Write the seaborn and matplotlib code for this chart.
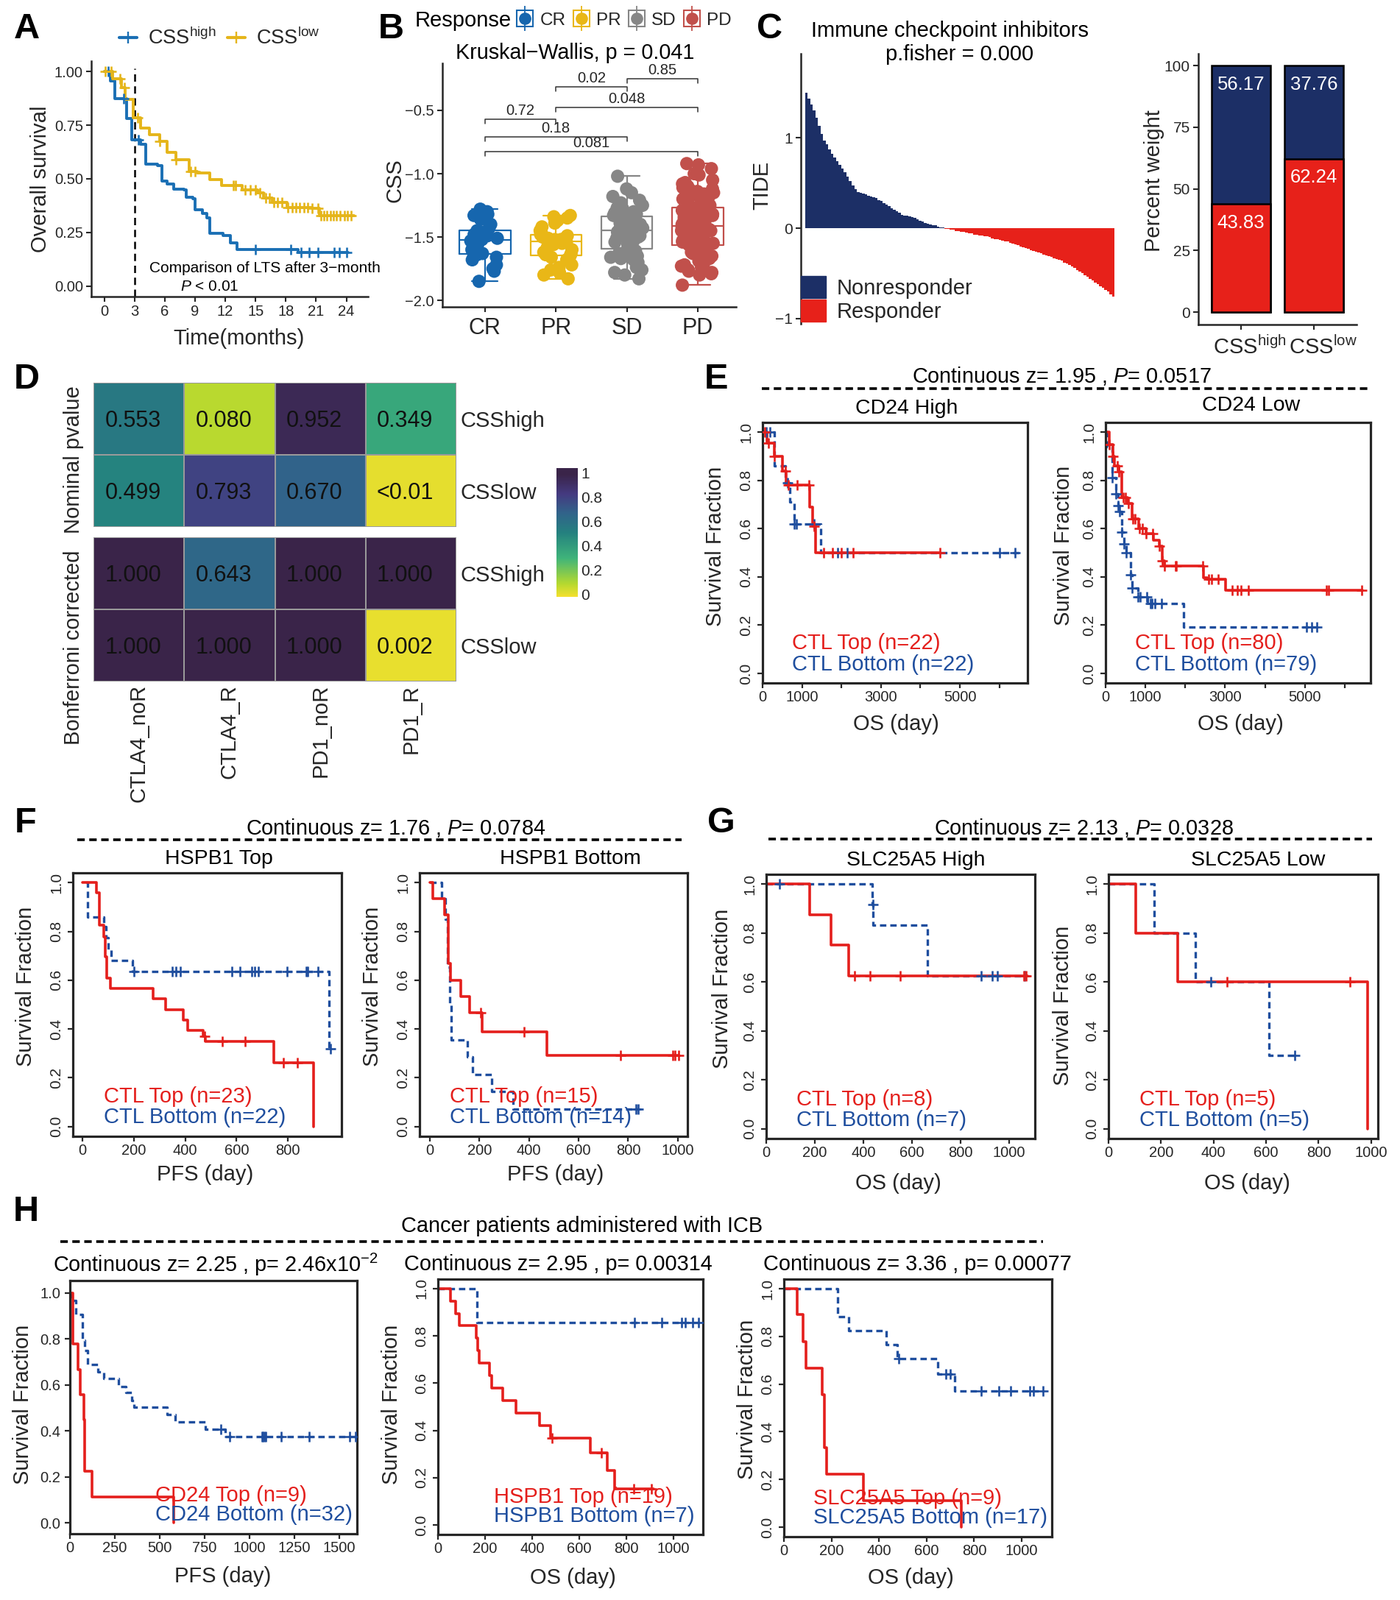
#!/usr/bin/env python3
# -*- coding: utf-8 -*-
"""Multi-panel survival / immunotherapy figure (panels A-H)."""

import numpy as np
import pandas as pd
import matplotlib
matplotlib.use("Agg")
import matplotlib.pyplot as plt
from matplotlib.colors import LinearSegmentedColormap
from matplotlib.legend_handler import HandlerTuple
from matplotlib.lines import Line2D
from matplotlib.patches import Patch
from matplotlib.transforms import ScaledTranslation
import seaborn as sns

W, H = 1902, 2174

# Panel A
a_blue_t = [0, 0.6, 1.07, 2.2, 2.7, 3.6, 4.1, 5.3, 5.7, 6.2, 6.9, 7.9, 8.15, 8.8, 9.0, 9.7, 10.2, 10.5, 11.8, 12.5, 13.2, 19.2, 24.2]
a_blue_s = [1.0, 0.955, 0.875, 0.78, 0.68, 0.66, 0.57, 0.56, 0.49, 0.475, 0.453, 0.45, 0.413, 0.408, 0.356, 0.34, 0.317, 0.248, 0.237, 0.203, 0.171, 0.157, 0.157]
a_blue_c = [0.4, 1.9, 3.4, 15.0, 18.5, 19.5, 20.3, 21.2, 22.8, 23.3, 24.0]
a_gold_t = [0, 0.84, 1.68, 2.1, 2.9, 3.6, 4.5, 5.5, 6.2, 7.1, 8.4, 9.2, 10.5, 11.6, 13.0, 13.7, 15.2, 15.8, 16.7, 18.1, 20.6, 21.3, 24.8]
a_gold_s = [1.0, 0.966, 0.926, 0.869, 0.784, 0.738, 0.705, 0.675, 0.624, 0.59, 0.533, 0.527, 0.495, 0.47, 0.47, 0.448, 0.436, 0.41, 0.39, 0.368, 0.362, 0.328, 0.328]
a_gold_c = [0.1, 0.7, 1.6, 2.0, 3.3, 5.5, 7.1, 8.6, 9.0, 12.8, 13.0, 14.0, 14.5, 15.0, 15.4, 16.0, 16.4, 16.8, 17.2, 17.6, 18.2, 18.6, 19.0, 19.4, 19.8, 20.2, 20.6, 21.2, 21.5, 21.8, 22.1, 22.4, 22.7, 23.0, 23.4, 23.8, 24.1, 24.5]

# Panel B
resp_cats = ["CR", "PR", "SD", "PD"]
css_cr = [-1.28, -1.30, -1.32, -1.33, -1.36, -1.40, -1.43, -1.45, -1.46, -1.48, -1.49, -1.50, -1.51, -1.52,
          -1.53, -1.54, -1.56, -1.58, -1.60, -1.62, -1.63, -1.64, -1.66, -1.68, -1.72, -1.75, -1.77, -1.85]
css_pr = [-1.33, -1.34, -1.35, -1.37, -1.39, -1.42, -1.45, -1.47, -1.48, -1.49, -1.50, -1.51, -1.51, -1.52, -1.52,
          -1.53, -1.53, -1.54, -1.55, -1.56, -1.58, -1.60, -1.62, -1.63, -1.64, -1.65, -1.66, -1.68, -1.72, -1.74,
          -1.76, -1.78, -1.80, -1.83]
css_sd = [-1.02, -1.12, -1.15, -1.18, -1.21, -1.23, -1.25, -1.27, -1.28, -1.29, -1.30, -1.31, -1.32, -1.33, -1.33,
          -1.34, -1.35, -1.36, -1.37, -1.38, -1.39, -1.40, -1.41, -1.41, -1.42, -1.42, -1.43, -1.43, -1.44, -1.44,
          -1.45, -1.45, -1.46, -1.47, -1.48, -1.49, -1.50, -1.51, -1.52, -1.53, -1.54, -1.55, -1.56, -1.57, -1.59,
          -1.60, -1.61, -1.62, -1.63, -1.65, -1.66, -1.67, -1.68, -1.70, -1.72, -1.74, -1.76, -1.78, -1.80, -1.83]
css_pd = [-0.92, -0.93, -0.96, -1.00, -1.01, -1.05, -1.07, -1.08, -1.10, -1.11, -1.12, -1.13, -1.14, -1.15, -1.16,
          -1.17, -1.18, -1.19, -1.20, -1.21, -1.22, -1.23, -1.24, -1.25, -1.26,
          -1.27, -1.28, -1.29, -1.30, -1.31, -1.32, -1.32, -1.33, -1.33, -1.34, -1.34, -1.35, -1.35, -1.36, -1.36,
          -1.37, -1.37, -1.38, -1.38, -1.39, -1.39, -1.40, -1.40, -1.41, -1.41,
          -1.42, -1.42, -1.43, -1.43, -1.44, -1.44, -1.45, -1.45, -1.46, -1.46, -1.47, -1.47, -1.48, -1.48, -1.49,
          -1.50, -1.51, -1.52, -1.53, -1.54, -1.55, -1.55, -1.56, -1.56, -1.56,
          -1.57, -1.58, -1.59, -1.60, -1.61, -1.62, -1.63, -1.64, -1.65, -1.66, -1.67, -1.68, -1.69, -1.70, -1.71,
          -1.72, -1.73, -1.74, -1.75, -1.76, -1.77, -1.78, -1.79, -1.80, -1.88]
# group a, group b, bracket height, p label
b_brackets = [(2, 3, -0.25, "0.85"), (1, 2, -0.314, "0.02"), (1, 3, -0.477, "0.048"),
              (0, 1, -0.568, "0.72"), (0, 2, -0.708, "0.18"), (0, 3, -0.826, "0.081")]

# Panel C
tide_nonresp = [1.50, 1.43, 1.37, 1.30, 1.22, 1.13, 1.04, 0.97, 0.93, 0.87, 0.82, 0.78, 0.74, 0.70, 0.66, 0.62, 0.57, 0.52,
                0.47, 0.43, 0.40, 0.39, 0.38, 0.37, 0.36, 0.35, 0.34, 0.33, 0.31, 0.30, 0.28, 0.26, 0.24, 0.22, 0.20, 0.19,
                0.17, 0.15, 0.14, 0.14, 0.13, 0.12, 0.11, 0.10, 0.08, 0.07, 0.06, 0.05, 0.04, 0.03, 0.03, 0.02, 0.01, 0.01]
tide_resp = [-0.01, -0.01, -0.02, -0.02, -0.03, -0.03, -0.04, -0.04, -0.05, -0.06, -0.06, -0.07, -0.07, -0.08, -0.08, -0.09,
             -0.09, -0.10, -0.11, -0.12, -0.12, -0.13, -0.14, -0.15, -0.15, -0.16, -0.17, -0.18, -0.19, -0.20, -0.21, -0.22,
             -0.23, -0.24, -0.25, -0.26, -0.27, -0.28, -0.29, -0.30, -0.31, -0.32, -0.33, -0.34, -0.35, -0.36, -0.38, -0.39,
             -0.41, -0.42, -0.44, -0.46, -0.48, -0.50, -0.52, -0.54, -0.56, -0.58, -0.60, -0.62, -0.64, -0.66, -0.68, -0.70,
             -0.73, -0.76]
css_groups = ["CSS$^{high}$", "CSS$^{low}$"]
pct_nonresp = [56.17, 37.76]
pct_resp = [43.83, 62.24]

# Panel D
d_cols = ["CTLA4_noR", "CTLA4_R", "PD1_noR", "PD1_R"]
d_rows = ["CSShigh", "CSSlow"]
d_nominal = [[0.553, 0.080, 0.952, 0.349], [0.499, 0.793, 0.670, 0.005]]
d_nominal_txt = [["0.553", "0.080", "0.952", "0.349"], ["0.499", "0.793", "0.670", "<0.01"]]
d_bonf = [[1.000, 0.643, 1.000, 1.000], [1.000, 1.000, 1.000, 0.002]]
d_bonf_txt = [["1.000", "0.643", "1.000", "1.000"], ["1.000", "1.000", "1.000", "0.002"]]

# Panel E
e1_red_t = [0, 110, 300, 510, 600, 1200, 1260, 1350, 4500]
e1_red_s = [1.0, 0.955, 0.9, 0.84, 0.78, 0.69, 0.61, 0.5, 0.5]
e1_red_c = [60, 150, 300, 570, 650, 870, 1170, 1300, 1550, 1770, 2000, 2300, 4500]
e1_blue_t = [0, 290, 300, 580, 690, 800, 1480, 6500]
e1_blue_s = [1.0, 0.93, 0.86, 0.79, 0.71, 0.62, 0.5, 0.5]
e1_blue_c = [100, 180, 640, 800, 850, 1300, 1900, 2140, 6000, 6400]
e2_red_t = [0, 90, 190, 220, 340, 410, 560, 670, 840, 1010, 1200, 1340, 1420, 1480, 2460, 2540, 3020, 6450]
e2_red_s = [1.0, 0.95, 0.9, 0.86, 0.835, 0.73, 0.705, 0.64, 0.6, 0.58, 0.553, 0.527, 0.465, 0.445, 0.395, 0.39, 0.344, 0.344]
e2_red_c = [90, 190, 300, 340, 450, 500, 580, 680, 730, 850, 920, 1020, 1180, 1340, 1420, 1480, 1760, 1770,
            2440, 2580, 2660, 2830, 3180, 3300, 3400, 3580, 5540, 5600, 6420]
e2_blue_t = [0, 30, 170, 250, 310, 360, 410, 460, 515, 630, 670, 820, 1060, 1960, 5320]
e2_blue_s = [1.0, 0.94, 0.81, 0.745, 0.695, 0.67, 0.585, 0.538, 0.5, 0.41, 0.353, 0.316, 0.29, 0.193, 0.193]
e2_blue_c = [170, 250, 310, 360, 410, 460, 515, 630, 670, 820, 870, 1030, 1130, 1170, 1230, 1400, 5050, 5180, 5300]

# Panel F
f1_red_t = [0, 54, 66, 82, 88, 95, 108, 276, 323, 392, 410, 470, 478, 745, 898]
f1_red_s = [1.0, 0.958, 0.827, 0.778, 0.695, 0.61, 0.565, 0.523, 0.478, 0.436, 0.393, 0.37, 0.348, 0.261, 0.0]
f1_red_c = [475, 545, 633, 783, 835]
f1_blue_t = [15, 20, 82, 92, 99, 113, 195, 960, 965]
f1_blue_s = [1.0, 0.86, 0.82, 0.775, 0.726, 0.682, 0.637, 0.32, 0.32]
f1_blue_c = [200, 350, 365, 380, 580, 612, 660, 670, 685, 795, 870, 875, 915, 965]
f2_red_t = [0, 13, 61, 75, 84, 124, 160, 212, 472, 1003]
f2_red_s = [1.0, 0.934, 0.867, 0.669, 0.6, 0.533, 0.466, 0.388, 0.292, 0.292]
f2_red_c = [205, 380, 770, 980, 990, 1003]
f2_blue_t = [0, 48, 63, 72, 81, 88, 153, 174, 251, 336, 842]
f2_blue_s = [1.0, 0.934, 0.85, 0.653, 0.497, 0.356, 0.285, 0.214, 0.143, 0.072, 0.072]
f2_blue_c = [830, 840]

# Panel G
g1_red_t = [0, 180, 268, 338, 1075]
g1_red_s = [1.0, 0.875, 0.75, 0.625, 0.625]
g1_red_c = [365, 428, 550, 1060, 1070]
g1_blue_t = [0, 437, 440, 665, 1066]
g1_blue_s = [1.0, 0.917, 0.833, 0.625, 0.625]
g1_blue_c = [55, 438, 885, 930, 950, 1065]
g2_red_t = [0, 104, 264, 986]
g2_red_s = [1.0, 0.8, 0.6, 0.0]
g2_red_c = [450, 920]
g2_blue_t = [0, 174, 330, 612, 710]
g2_blue_s = [1.0, 0.8, 0.6, 0.3, 0.3]
g2_blue_c = [390, 710]

# Panel H
h1_red_t = [0, 17, 47, 60, 80, 84, 127, 581]
h1_red_s = [1.0, 0.78, 0.667, 0.556, 0.45, 0.225, 0.113, 0.0]
h1_red_c = []
h1_blue_t = [0, 10, 35, 72, 84, 102, 159, 189, 271, 315, 345, 358, 544, 589, 755, 867, 1600]
h1_blue_s = [1.0, 0.966, 0.906, 0.794, 0.75, 0.689, 0.656, 0.628, 0.594, 0.567, 0.533, 0.502, 0.472, 0.439, 0.406, 0.374, 0.374]
h1_blue_c = [840, 890, 1070, 1075, 1085, 1090, 1180, 1335, 1560, 1590]
h2_red_t = [0, 53, 76, 91, 161, 170, 176, 218, 227, 275, 331, 430, 477, 646, 720, 750, 916]
h2_red_s = [1.0, 0.947, 0.893, 0.845, 0.79, 0.737, 0.686, 0.632, 0.578, 0.526, 0.475, 0.42, 0.368, 0.307, 0.23, 0.152, 0.152]
h2_red_c = [485, 695, 830, 905]
h2_blue_t = [0, 167, 1110]
h2_blue_s = [1.0, 0.855, 0.855]
h2_blue_c = [835, 950, 1035, 1050, 1080, 1105]
h3_red_t = [0, 56, 81, 94, 160, 169, 179, 335, 746]
h3_red_s = [1.0, 0.892, 0.778, 0.667, 0.557, 0.332, 0.223, 0.11, 0.0]
h3_red_c = []
h3_blue_t = [0, 226, 273, 429, 476, 648, 718, 1090]
h3_blue_s = [1.0, 0.883, 0.824, 0.766, 0.706, 0.642, 0.571, 0.571]
h3_blue_c = [483, 680, 700, 830, 905, 955, 1035, 1050, 1090]

RED = "#E41F1C"
BLUE = "#1F4E9E"
NAVY = "#1C2F66"
C_RED = "#E7211A"
A_BLUE = "#1A6FB4"
A_GOLD = "#E5B51A"
RESP_COLORS = {"CR": "#1666AE", "PR": "#E9B717", "SD": "#868686", "PD": "#C1504B"}

sns.set_theme(style="ticks")
plt.rcParams["font.family"] = ["Liberation Sans", "DejaVu Sans"]
plt.rcParams["mathtext.fontset"] = "custom"
plt.rcParams["mathtext.rm"] = "Liberation Sans"
plt.rcParams["mathtext.it"] = "Liberation Sans:italic"
plt.rcParams["mathtext.default"] = "regular"
plt.rcParams["axes.unicode_minus"] = True

fig = plt.figure(figsize=(W / 100, H / 100), dpi=100, facecolor="white")


def add_axes_px(left, top, right, bottom):
    return fig.add_axes([left / W, 1 - bottom / H, (right - left) / W, (bottom - top) / H])


def fig_text(x, y, s, size=21, ha="center", **kw):
    # va=center sits a little high, nudge down to line up with the target
    return fig.text(x / W, 1 - (y + 2.5) / H, s, fontsize=size, ha=ha, va="center", color=kw.pop("color", "black"), **kw)


def to_axes(ax, x, y):
    box = ax.get_position()
    return (x / W - box.x0) / box.width, ((1 - y / H) - box.y0) / box.height


def set_labels(ax, xlabel, ylabel, xpos=None, ypos=None, size=21):
    if xpos is not None:
        ax.set_xlabel(xlabel, fontsize=size, va="center")
        ax.xaxis.set_label_coords(*to_axes(ax, xpos[0], xpos[1] + 2.5))
    if ypos is not None:
        ax.set_ylabel(ylabel, fontsize=size, va="center")
        ax.yaxis.set_label_coords(*to_axes(ax, ypos[0] + 2.5, ypos[1]))


def header_rule(x0, x1, y):
    fig.add_artist(Line2D([x0 / W, x1 / W], [1 - y / H, 1 - y / H], color="black", lw=2.6,
                          linestyle=(0, (2.8, 1.7)), transform=fig.transFigure))


def step_values(times, surv, query):
    idx = np.searchsorted(times, query, side="right") - 1
    return np.asarray(surv)[np.clip(idx, 0, len(surv) - 1)]


def km_curve(ax, t, s, cens, color, dashed=False, lw=2.6, mark=110):
    ls = (0, (2.6, 1.6)) if dashed else "-"
    sns.lineplot(x=t, y=s, drawstyle="steps-post", estimator=None, sort=False, color=color,
                 linewidth=lw, linestyle=ls, ax=ax, legend=False)
    if len(cens):
        sns.scatterplot(x=cens, y=step_values(t, s, cens), marker="+", s=mark, linewidth=1.9,
                        color=color, ax=ax, legend=False, zorder=4)


def km_panel(rect, red, blue, xlim, xticks, xticklabels, xlabel, xpos, ypos,
             ylim=(-0.04, 1.04), rotate_y=True):
    ax = add_axes_px(*rect)
    km_curve(ax, blue[0], blue[1], blue[2], BLUE, dashed=True, lw=2.4)
    km_curve(ax, red[0], red[1], red[2], RED)
    ax.set_xlim(*xlim)
    ax.set_ylim(*ylim)
    ax.set_xticks(xticks)
    ax.set_xticklabels(xticklabels, fontsize=14.5)
    ax.set_yticks([0, 0.2, 0.4, 0.6, 0.8, 1.0])
    if rotate_y:
        ax.set_yticklabels(["0.0", "0.2", "0.4", "0.6", "0.8", "1.0"], fontsize=15, rotation=90, va="center")
    else:
        ax.set_yticklabels(["0.0", "0.2", "0.4", "0.6", "0.8", "1.0"], fontsize=14.5)
    ax.tick_params(axis="x", length=5, width=1.6, pad=2)
    ax.tick_params(axis="y", length=5, width=1.6, pad=4)
    for spine in ax.spines.values():
        spine.set_linewidth(2.3)
        spine.set_visible(True)
    set_labels(ax, xlabel, "Survival Fraction", xpos, ypos)
    return ax


def panel_letter(x, y, s):
    fig_text(x, y, s, size=35, fontweight="bold")


# ---- A
ax_a = add_axes_px(124, 83, 500, 403)
ax_a.axvline(3, color="black", lw=1.8, linestyle=(0, (4, 2.5)), ymax=0.97)
km_curve(ax_a, a_blue_t, a_blue_s, a_blue_c, A_BLUE, lw=2.8, mark=110)
km_curve(ax_a, a_gold_t, a_gold_s, a_gold_c, A_GOLD, lw=2.8, mark=110)
ax_a.set_xlim(-1.28, 26.15)
ax_a.set_ylim(-0.048, 1.048)
ax_a.set_xticks(range(0, 25, 3))
ax_a.set_yticks([0, 0.25, 0.5, 0.75, 1.0])
ax_a.set_yticklabels(["0.00", "0.25", "0.50", "0.75", "1.00"])
ax_a.tick_params(labelsize=14.5, length=5, width=1.5, pad=3)
sns.despine(ax=ax_a)
ax_a.spines[["left", "bottom"]].set_linewidth(1.8)
set_labels(ax_a, "Time(months)", "Overall survival", (325, 457), (52, 243))
fig.legend(handles=[Line2D([], [], color=A_BLUE, marker="+", ms=12, mew=1.7, lw=3),
                    Line2D([], [], color=A_GOLD, marker="+", ms=12, mew=1.7, lw=3)],
           labels=css_groups, ncols=2, frameon=False, fontsize=19.5, loc="center",
           bbox_to_anchor=(298 / W, 1 - 52 / H), handlelength=0.9, handletextpad=0.55, columnspacing=0.55,
           borderpad=0, borderaxespad=0)
fig_text(203, 362, "Comparison of LTS after 3\u2212month", size=15, ha="left")
fig_text(245, 387, "$\\mathit{P}$ < 0.01", size=15, ha="left")

# ---- B
css_df = pd.DataFrame({
    "Response": ["CR"] * len(css_cr) + ["PR"] * len(css_pr) + ["SD"] * len(css_sd) + ["PD"] * len(css_pd),
    "CSS": css_cr + css_pr + css_sd + css_pd,
})
ax_b = add_axes_px(601, 86, 1000, 417)
sns.stripplot(data=css_df, x="Response", y="CSS", hue="Response", order=resp_cats, hue_order=resp_cats,
              palette=RESP_COLORS, size=13, jitter=0.23, legend=False, ax=ax_b)
sns.boxplot(data=css_df, x="Response", y="CSS", hue="Response", order=resp_cats, hue_order=resp_cats,
            palette=RESP_COLORS, saturation=1, fill=False, width=0.72, showfliers=False, linewidth=1.6,
            legend=False, ax=ax_b)
for g_a, g_b, y_b, p_txt in b_brackets:
    ax_b.plot([g_a, g_a, g_b, g_b], [y_b - 0.035, y_b, y_b, y_b - 0.035], color="#333333", lw=1.1)
    ax_b.text((g_a + g_b) / 2, y_b + 0.01, p_txt, ha="center", va="bottom", fontsize=14.5)
ax_b.set_xlim(-0.6, 3.54)
ax_b.set_ylim(-2.052, -0.128)
ax_b.set_yticks([-2.0, -1.5, -1.0, -0.5])
ax_b.tick_params(axis="y", labelsize=14.5, length=5, width=1.5, pad=3)
ax_b.tick_params(axis="x", labelsize=22, length=5, width=1.5, pad=5)
sns.despine(ax=ax_b)
ax_b.spines[["left", "bottom"]].set_linewidth(1.8)
set_labels(ax_b, "", "CSS", None, (534, 245))
ax_b.set_xlabel("")
fig_text(781, 69, "Kruskal\u2212Wallis, p = 0.041", size=20.7)
fig_text(629, 26, "Response", size=21)
resp_handles = [(Line2D([], [], color=RESP_COLORS[c], marker="|", ms=24, mew=1.3, ls="none"),
                 Line2D([], [], color=RESP_COLORS[c], marker="s", ms=16, mfc="none", mew=1.5, ls="none"),
                 Line2D([], [], color=RESP_COLORS[c], marker="o", ms=11, ls="none")) for c in resp_cats]
fig.legend(handles=resp_handles, labels=resp_cats, ncols=4, frameon=False, fontsize=17.5, loc="center left",
           bbox_to_anchor=(700 / W, 1 - 28 / H), handler_map={tuple: HandlerTuple(ndivide=1, pad=0)},
           handlelength=1.1, handletextpad=0.3, columnspacing=0.3, borderpad=0, borderaxespad=0)

# ---- C waterfall
tide_df = pd.DataFrame({
    "pos": range(len(tide_nonresp) + len(tide_resp)),
    "TIDE": tide_nonresp + tide_resp,
    "group": ["Nonresponder"] * len(tide_nonresp) + ["Responder"] * len(tide_resp),
})
ax_c = add_axes_px(1088, 73, 1516, 440)
sns.barplot(data=tide_df, x="pos", y="TIDE", hue="group", palette={"Nonresponder": NAVY, "Responder": C_RED},
            saturation=1, dodge=False, width=1.0, linewidth=0, legend=False, ax=ax_c)
ax_c.set_xlim(-2.2, 120)
ax_c.set_ylim(-1.057, 1.927)
ax_c.set_xticks([])
ax_c.set_yticks([-1, 0, 1])
ax_c.set_yticklabels(["\u22121", "0", "1"])
ax_c.tick_params(axis="y", labelsize=15, length=5, width=1.5, pad=3)
sns.despine(ax=ax_c, bottom=True)
ax_c.spines["left"].set_linewidth(1.8)
set_labels(ax_c, "", "TIDE", None, (1033, 252))
ax_c.set_xlabel("")
ax_c.legend(handles=[Patch(color=NAVY, label="Nonresponder"), Patch(color=C_RED, label="Responder")],
            frameon=False, fontsize=21, loc="lower left", bbox_to_anchor=(0, 0.005), handlelength=1.17,
            handleheight=1.2, labelspacing=0.05, handletextpad=0.5, borderpad=0, borderaxespad=0)
fig_text(1290, 39, "Immune checkpoint inhibitors", size=21)
fig_text(1304, 71, "p.fisher = 0.000", size=21)

# ---- C stacked bars
ax_c2 = add_axes_px(1628, 73, 1843, 441)
sns.barplot(x=css_groups, y=[n + r for n, r in zip(pct_nonresp, pct_resp)], color=NAVY, saturation=1, width=0.8,
            edgecolor="black", linewidth=1.8, ax=ax_c2)
sns.barplot(x=css_groups, y=pct_resp, color=C_RED, saturation=1, width=0.8, edgecolor="black", linewidth=1.8, ax=ax_c2)
for i, (n_val, r_val) in enumerate(zip(pct_nonresp, pct_resp)):
    ax_c2.text(i, 100 - 7.6, f"{n_val:.2f}", color="white", ha="center", va="center", fontsize=18.5)
    ax_c2.text(i, r_val - 7.6, f"{r_val:.2f}", color="white", ha="center", va="center", fontsize=18.5)
ax_c2.set_xlim(-0.586, 1.586)
ax_c2.set_ylim(-5, 104.8)
ax_c2.set_yticks([0, 25, 50, 75, 100])
ax_c2.tick_params(axis="y", labelsize=15, length=5, width=1.5, pad=3)
ax_c2.tick_params(axis="x", labelsize=21, length=5, width=1.5, pad=6)
for tick_lab in ax_c2.get_xticklabels():
    # labels sit right of their ticks in the target
    tick_lab.set_transform(tick_lab.get_transform() + ScaledTranslation(12 / 100, 0, fig.dpi_scale_trans))
sns.despine(ax=ax_c2)
ax_c2.spines[["left", "bottom"]].set_linewidth(1.8)
set_labels(ax_c2, "", "Percent weight", None, (1565, 246))
ax_c2.set_xlabel("")

# ---- D
d_cmap = LinearSegmentedColormap.from_list(
    "viridis_soft",
    [(0, "#F4E02E"), (0.1, "#B5D92F"), (0.3, "#3FB47A"), (0.5, "#24807F"), (0.65, "#31638A"),
     (0.8, "#443A80"), (0.95, "#3A2449"), (1, "#3A2449")])
cax = add_axes_px(756, 636, 785, 811)
ax_d1 = add_axes_px(127, 520, 620, 716)
ax_d2 = add_axes_px(127, 730, 620, 926)
heat_kw = dict(cmap=d_cmap, vmin=-0.02, vmax=1.04, fmt="", linewidths=1.2, linecolor="#9A9A9A",
               annot_kws={"fontsize": 22, "color": "#111111"})
sns.heatmap(np.array(d_nominal), annot=np.array(d_nominal_txt), cbar=True, cbar_ax=cax, ax=ax_d1, **heat_kw)
sns.heatmap(np.array(d_bonf), annot=np.array(d_bonf_txt), cbar=False, ax=ax_d2, **heat_kw)
for ax_h, y_lab, y_px in [(ax_d1, "Nominal pvalue", 625), (ax_d2, "Bonferroni corrected", 880)]:
    ax_h.set_xticks([])
    ax_h.yaxis.tick_right()
    ax_h.set_yticks([0.5, 1.5])
    ax_h.set_yticklabels(d_rows, rotation=0, fontsize=21)
    ax_h.tick_params(axis="y", length=0, pad=4)
    set_labels(ax_h, "", y_lab, None, (98, y_px))
    ax_h.set_xlabel("")
    for cell_txt in ax_h.texts:
        # numbers are a little left of and below the cell centres
        cell_x, cell_y = cell_txt.get_position()
        cell_txt.set_position((cell_x - 0.065, cell_y + 0.03))
ax_d2.set_xticks([0.5, 1.5, 2.5, 3.5])
ax_d2.set_xticklabels(d_cols, rotation=90, fontsize=21)
ax_d2.tick_params(axis="x", length=0, pad=3)
cax.set_yticks([0, 0.2, 0.4, 0.6, 0.8, 1])
cax.set_yticklabels(["0", "0.2", "0.4", "0.6", "0.8", "1"])
cax.tick_params(axis="y", labelsize=15, length=5, width=1.2, color="white", direction="in", left=True, right=True, pad=3)

# ---- E
fig_text(1442, 509, "Continuous z= 1.95 , $\\mathit{P}$= 0.0517", size=20.8)
header_rule(1035, 1858, 528)
fig_text(1232, 553, "CD24 High", size=20.5)
fig_text(1700, 549, "CD24 Low", size=20.5)
e_ticks = [0, 1000, 2000, 3000, 4000, 5000, 6000]
e_labels = ["0", "1000", "", "3000", "", "5000", ""]
km_panel((1036, 574, 1396, 928), (e1_red_t, e1_red_s, e1_red_c), (e1_blue_t, e1_blue_s, e1_blue_c),
         (0, 6716), e_ticks, e_labels, "OS (day)", (1217, 982), (970, 742))
km_panel((1502, 574, 1862, 928), (e2_red_t, e2_red_s, e2_red_c), (e2_blue_t, e2_blue_s, e2_blue_c),
         (0, 6650), e_ticks, e_labels, "OS (day)", (1685, 982), (1442, 741))
fig_text(1076, 872, "CTL Top (n=22)", size=21, ha="left", color=RED)
fig_text(1076, 900, "CTL Bottom (n=22)", size=21, ha="left", color=BLUE)
fig_text(1542, 872, "CTL Top (n=80)", size=21, ha="left", color=RED)
fig_text(1542, 900, "CTL Bottom (n=79)", size=21, ha="left", color=BLUE)

# ---- F
fig_text(538, 1122, "Continuous z= 1.76 , $\\mathit{P}$= 0.0784", size=20.8)
header_rule(105, 926, 1141)
fig_text(297, 1164, "HSPB1 Top", size=20.5)
fig_text(775, 1164, "HSPB1 Bottom", size=20.5)
km_panel((99, 1186, 464, 1544), (f1_red_t, f1_red_s, f1_red_c), (f1_blue_t, f1_blue_s, f1_blue_c),
         (-37, 1008), [0, 200, 400, 600, 800], ["0", "200", "400", "600", "800"], "PFS (day)", (279, 1593), (33, 1340))
km_panel((570, 1186, 934, 1544), (f2_red_t, f2_red_s, f2_red_c), (f2_blue_t, f2_blue_s, f2_blue_c),
         (-41, 1039), [0, 200, 400, 600, 800, 1000], ["0", "200", "400", "600", "800", "1000"], "PFS (day)",
         (755, 1593), (504, 1340))
fig_text(141, 1488, "CTL Top (n=23)", size=21, ha="left", color=RED)
fig_text(141, 1515, "CTL Bottom (n=22)", size=21, ha="left", color=BLUE)
fig_text(611, 1488, "CTL Top (n=15)", size=21, ha="left", color=RED)
fig_text(611, 1515, "CTL Bottom (n=14)", size=21, ha="left", color=BLUE)

# ---- G
fig_text(1472, 1122, "Continuous z= 2.13 , $\\mathit{P}$= 0.0328", size=20.8)
header_rule(1044, 1864, 1140)
fig_text(1244, 1166, "SLC25A5 High", size=20.5)
fig_text(1709, 1166, "SLC25A5 Low", size=20.5)
km_panel((1041, 1188, 1406, 1547), (g1_red_t, g1_red_s, g1_red_c), (g1_blue_t, g1_blue_s, g1_blue_c),
         (0, 1106), [0, 200, 400, 600, 800, 1000], ["0", "200", "400", "600", "800", "1000"], "OS (day)",
         (1220, 1605), (979, 1343))
km_panel((1506, 1188, 1872, 1547), (g2_red_t, g2_red_s, g2_red_c), (g2_blue_t, g2_blue_s, g2_blue_c),
         (0, 1026), [0, 200, 400, 600, 800, 1000], ["0", "200", "400", "600", "800", "1000"], "OS (day)",
         (1694, 1605), (1441, 1366))
fig_text(1082, 1492, "CTL Top (n=8)", size=21, ha="left", color=RED)
fig_text(1082, 1519, "CTL Bottom (n=7)", size=21, ha="left", color=BLUE)
fig_text(1548, 1492, "CTL Top (n=5)", size=21, ha="left", color=RED)
fig_text(1548, 1519, "CTL Bottom (n=5)", size=21, ha="left", color=BLUE)

# ---- H
fig_text(791, 1663, "Cancer patients administered with ICB", size=20.8)
header_rule(82, 1417, 1687)
fig_text(293, 1716, "Continuous z= 2.25 , p= 2.46x10$^{-2}$", size=20.8)
fig_text(758, 1716, "Continuous z= 2.95 , p= 0.00314", size=20.8)
fig_text(1246, 1716, "Continuous z= 3.36 , p= 0.00077", size=20.8)
km_panel((94.5, 1740, 485, 2084), (h1_red_t, h1_red_s, h1_red_c), (h1_blue_t, h1_blue_s, h1_blue_c),
         (0, 1600), [0, 250, 500, 750, 1000, 1250, 1500], ["0", "250", "500", "750", "1000", "1250", "1500"],
         "PFS (day)", (303, 2140), (29, 1908), ylim=(-0.048, 1.054), rotate_y=False)
km_panel((595, 1738, 955, 2085), (h2_red_t, h2_red_s, h2_red_c), (h2_blue_t, h2_blue_s, h2_blue_c),
         (0, 1125), [0, 200, 400, 600, 800, 1000], ["0", "200", "400", "600", "800", "1000"], "OS (day)",
         (778, 2142), (530, 1908))
km_panel((1065, 1738, 1429, 2088), (h3_red_t, h3_red_s, h3_red_c), (h3_blue_t, h3_blue_s, h3_blue_c),
         (0, 1127), [0, 200, 400, 600, 800, 1000], ["0", "200", "400", "600", "800", "1000"], "OS (day)",
         (1237, 2142), (1012, 1901))
fig_text(211, 2030, "CD24 Top (n=9)", size=21, ha="left", color=RED)
fig_text(211, 2056, "CD24 Bottom (n=32)", size=21, ha="left", color=BLUE)
fig_text(671, 2031, "HSPB1 Top (n=19)", size=21, ha="left", color=RED)
fig_text(671, 2058, "HSPB1 Bottom (n=7)", size=21, ha="left", color=BLUE)
fig_text(1105, 2034, "SLC25A5 Top (n=9)", size=21, ha="left", color=RED)
fig_text(1105, 2060, "SLC25A5 Bottom (n=17)", size=21, ha="left", color=BLUE)

for px, py, letter in [(36, 37, "A"), (531, 37, "B"), (1045, 37, "C"), (36, 513, "D"), (973, 513, "E"),
                       (35, 1116, "F"), (980, 1116, "G"), (35, 1644, "H")]:
    panel_letter(px, py, letter)

fig.savefig("out.png", dpi=100, facecolor="white")
